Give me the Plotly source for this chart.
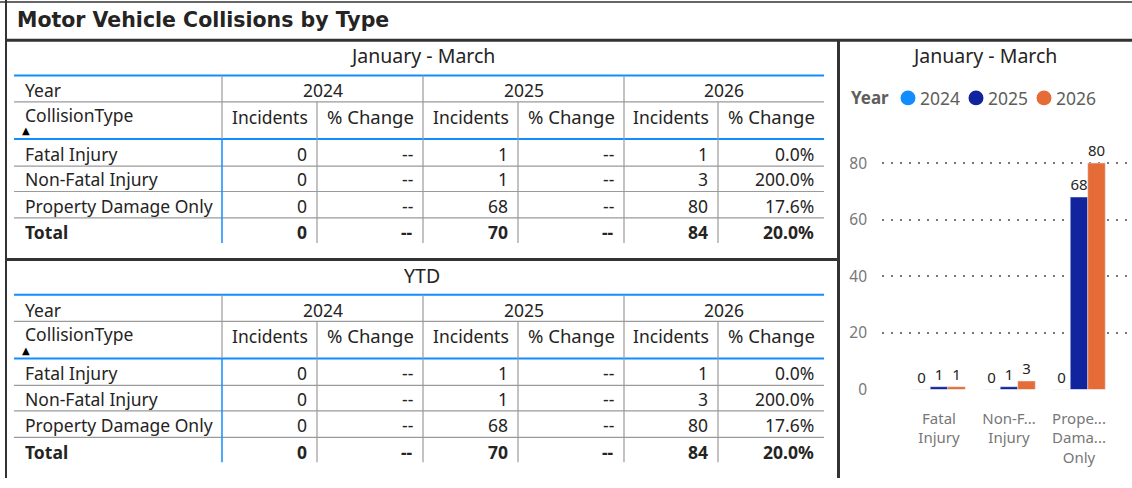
import plotly.graph_objects as go

W, H = 1132, 488
FONT = "Noto Sans"
TITLE_FONT = "DejaVu Sans"

# categories and years
collision_types = ["Fatal Injury", "Non-Fatal Injury", "Property Damage Only"]
chart_labels = ["Fatal<br>Injury", "Non-F...<br>Injury", "Prope...<br>Dama...<br>Only"]
years = ["2024", "2025", "2026"]
year_colors = ["#118DFF", "#12239E", "#E66C37"]

# January - March incidents per year
q1_2024 = [0, 0, 0]
q1_2025 = [1, 1, 68]
q1_2026 = [1, 3, 80]
# % change column (rows then total)
q1_pct_2024 = ["--", "--", "--", "--"]
q1_pct_2025 = ["--", "--", "--", "--"]
q1_pct_2026 = ["0.0%", "200.0%", "17.6%", "20.0%"]

# YTD
ytd_2024 = [0, 0, 0]
ytd_2025 = [1, 1, 68]
ytd_2026 = [1, 3, 80]
ytd_pct_2024 = ["--", "--", "--", "--"]
ytd_pct_2025 = ["--", "--", "--", "--"]
ytd_pct_2026 = ["0.0%", "200.0%", "17.6%", "20.0%"]

TXT = "#252423"
GREY_TXT = "#605E5C"
GREY_LINE = "#9a9a9a"
BLUE_LINE = "#118DFF"
DARK = "#333333"

fig = go.Figure()


def px(x):
    return x / W


def py(y):
    return 1 - y / H


def line(x0, y0, x1, y1, color, width):
    fig.add_shape(type="line", xref="paper", yref="paper",
                  x0=px(x0), y0=py(y0), x1=px(x1), y1=py(y1),
                  line=dict(color=color, width=width), layer="above")


def text(x, y, s, anchor="center", size=17.5, bold=False, color=TXT, family=FONT):
    if bold:
        s = "<b>" + s + "</b>"
    fig.add_annotation(xref="paper", yref="paper", x=px(x), y=py(y), text=s,
                       showarrow=False, xanchor=anchor, yanchor="middle",
                       font=dict(family=family, size=size, color=color))


col_edges = [222, 317, 423, 518, 624, 718, 824]
row_y = [157, 183, 210, 237]


def draw_table(dy, title, incs, pcts):
    text(422, 57 + dy, title, size=19.5)
    line(14, 77 + dy, 824, 77 + dy, BLUE_LINE, 2)
    text(23, 92 + dy, "Year", anchor="left")
    for i, yr in enumerate(years):
        text((col_edges[2 * i] + col_edges[2 * i + 2]) / 2, 92 + dy, yr)
    line(14, 104 + dy, 824, 104 + dy, GREY_LINE, 1.2)
    text(23, 117 + dy, "CollisionType", anchor="left")
    text(26, 133.5 + dy, "▲", size=10, color="#000000", family="DejaVu Sans")
    for i in range(3):
        text((col_edges[2 * i] + col_edges[2 * i + 1]) / 2, 119 + dy, "Incidents")
        text((col_edges[2 * i + 1] + col_edges[2 * i + 2]) / 2, 119 + dy, "% Change", size=18.5)
    line(14, 142 + dy, 824, 142 + dy, BLUE_LINE, 2)
    for r in range(3):
        line(14, row_y[r] + 12.5 + dy, 824, row_y[r] + 12.5 + dy, GREY_LINE, 1.2)
    # vertical separators
    line(222, 77 + dy, 222, 142 + dy, GREY_LINE, 1.2)
    line(222, 142 + dy, 222, 248 + dy, BLUE_LINE, 1.5)
    for k, x in enumerate(col_edges[1:-1]):
        top = 77 if k % 2 == 1 else 104
        line(x, top + dy, x, 248 + dy, GREY_LINE, 1.2)
    # body
    names = collision_types + ["Total"]
    for r, name in enumerate(names):
        bold = name == "Total"
        text(23, row_y[r] + dy, name, anchor="left", bold=bold)
        for i in range(3):
            vals = incs[i]
            v = sum(vals) if bold else vals[r]
            text(col_edges[2 * i + 1] - 8, row_y[r] + dy, str(v), anchor="right", bold=bold)
            text(col_edges[2 * i + 2] - 8, row_y[r] + dy, pcts[i][r], anchor="right", bold=bold)


draw_table(0, "January - March", [q1_2024, q1_2025, q1_2026],
           [q1_pct_2024, q1_pct_2025, q1_pct_2026])
draw_table(224, "YTD", [ytd_2024, ytd_2025, ytd_2026],
           [ytd_pct_2024, ytd_pct_2025, ytd_pct_2026])

# page frame
line(0, 2, W, 2, DARK, 1.5)
line(6, 0, 6, H, DARK, 2)
line(6, 41, W, 41, DARK, 3)
line(838.5, 41, 838.5, H, DARK, 3)
line(6, 265, 838.5, 265, DARK, 3)
text(15, 20, "Motor Vehicle Collisions by Type", anchor="left", size=20.5,
     bold=True, family=TITLE_FONT)

# chart panel
text(984, 57, "January - March", size=19.5)
for yr, vals, c in zip(years, [q1_2024, q1_2025, q1_2026], year_colors):
    fig.add_trace(go.Bar(x=chart_labels, y=vals, name=yr, marker_color=c,
                         text=vals, textposition="outside", cliponaxis=False,
                         constraintext="none", showlegend=False,
                         textfont=dict(family=FONT, size=15, color=TXT)))

# legend: "Year" followed by coloured dots
text(849, 100, "Year", anchor="left", size=17, bold=True, color=GREY_TXT)
for i, (yr, c) in enumerate(zip(years, year_colors)):
    cx = 908 + 68 * i
    fig.add_shape(type="circle", xref="paper", yref="paper",
                  x0=px(cx - 7.5), x1=px(cx + 7.5), y0=py(100 + 7.5), y1=py(100 - 7.5),
                  fillcolor=c, line=dict(width=0))
    text(cx + 10, 100, yr, anchor="left", size=17.5, color=GREY_TXT)

fig.update_layout(
    width=W, height=H,
    margin=dict(l=0, r=0, t=0, b=0),
    paper_bgcolor="white", plot_bgcolor="white",
    barmode="group", bargap=0.25, bargroupgap=0,
    font=dict(family=FONT, color=TXT),
    showlegend=False,
    xaxis=dict(domain=[px(882), 1], range=[(882 - 939) / 70, (1132 - 939) / 70],
               showgrid=False, zeroline=False, showline=False, ticks="",
               ticklabelstandoff=18,
               tickfont=dict(family=FONT, size=15, color="#777777"),
               fixedrange=True),
    yaxis=dict(domain=[py(397.7), py(397.7 - 90 * 2.89)], range=[0, 90],
               tickvals=[0, 20, 40, 60, 80], showgrid=True, gridcolor="#777777",
               griddash="1.5px,7.5px", gridwidth=1.5, zeroline=False,
               showline=False, ticks="", ticklabelstandoff=14,
               tickfont=dict(family=FONT, size=15.5, color="#777777")),
)

fig.write_html(
    "out.html",
    config={"displayModeBar": False},
    post_script=("var gd = document.getElementById('{plot_id}');"
                 "gd.style.position = 'fixed'; gd.style.top = '0'; gd.style.left = '0';"
                 "document.body.style.margin = '0';"
                 "document.body.style.overflow = 'hidden';"),
)
